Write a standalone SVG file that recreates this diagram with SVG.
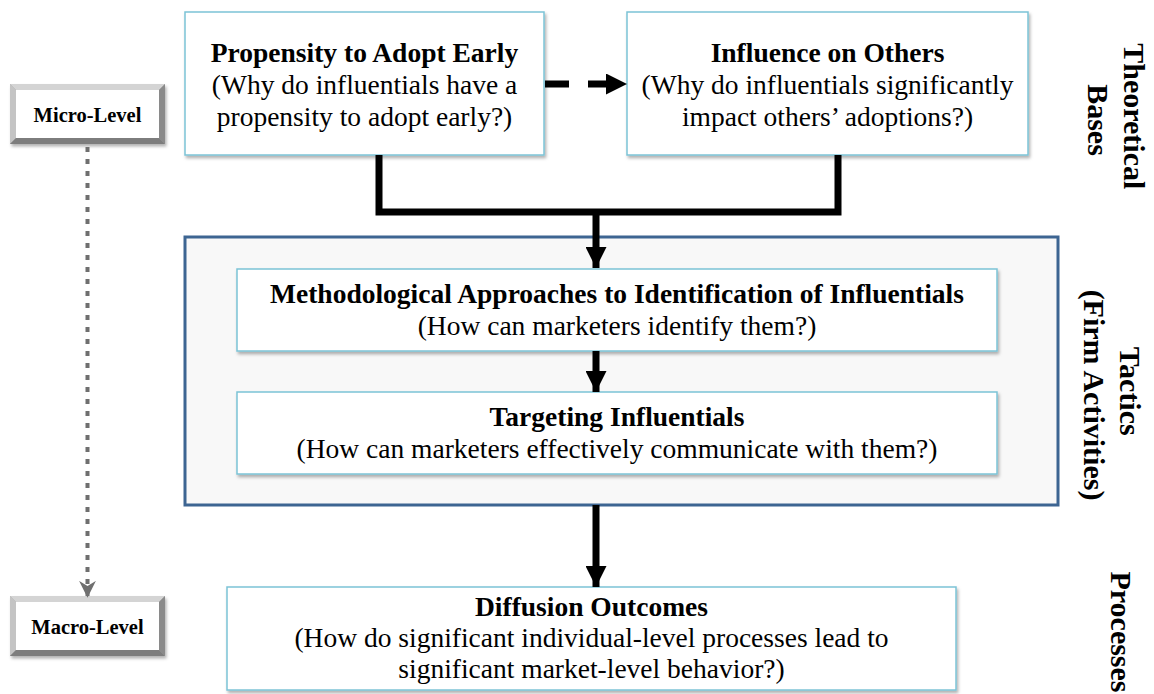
<svg xmlns="http://www.w3.org/2000/svg" width="1154" height="694" viewBox="0 0 1154 694">
  <defs>
    <filter id="shadow" x="-5%" y="-5%" width="110%" height="120%">
      <feDropShadow dx="1.5" dy="2.5" stdDeviation="1.5" flood-color="#000" flood-opacity="0.3"/>
    </filter>
    <marker id="arrowBlack" viewBox="0 0 10 10" refX="10" refY="5" markerWidth="3" markerHeight="3" orient="auto" markerUnits="strokeWidth">
      <path d="M0,0 L10,5 L0,10 Z" fill="#000"/>
    </marker>
    <marker id="arrowGray" viewBox="0 0 10 10" refX="9" refY="5" markerWidth="4.2" markerHeight="4.2" orient="auto" markerUnits="strokeWidth">
      <path d="M0,0 L10,5 L0,10 L3,5 Z" fill="#6f6f6f"/>
    </marker>
  </defs>
  <style>
    .box { fill: #ffffff; stroke: #7cc3d6; stroke-width: 1.5; }
    .frame { fill: #f8f8f8; stroke: #3d6592; stroke-width: 3; }
    .title { font-family: "Liberation Serif", "Times New Roman", serif; font-weight: bold; font-size: 27.5px; fill: #000; text-anchor: middle; }
    .body { font-family: "Liberation Serif", "Times New Roman", serif; font-size: 27.5px; fill: #000; text-anchor: middle; }
    .side { font-family: "Liberation Serif", "Times New Roman", serif; font-weight: bold; font-size: 30px; fill: #000; text-anchor: middle; }
    .level { font-family: "Liberation Serif", "Times New Roman", serif; font-weight: bold; font-size: 20.5px; fill: #000; text-anchor: middle; }
    .conn { fill: none; stroke: #000; stroke-width: 7; }
  </style>

  <!-- outer tactics frame -->
  <g id="tactics-frame">
    <rect class="frame" x="185" y="237" width="873" height="268"/>
  </g>

  <!-- level indicators -->
  <g id="micro-level">
    <rect x="10" y="84" width="155" height="60" fill="#a9a9a9" filter="url(#shadow)"/>
    <polygon points="10,84 165,84 159,90 16,90" fill="#d4d4d4"/>
    <polygon points="10,84 16,90 16,138 10,144" fill="#c4c4c4"/>
    <polygon points="165,84 165,144 159,138 159,90" fill="#8a8a8a"/>
    <polygon points="10,144 165,144 159,138 16,138" fill="#7d7d7d"/>
    <rect x="16" y="90" width="143" height="48" fill="#ffffff"/>
    <text class="level" x="87.5" y="122">Micro-Level</text>
  </g>
  <g id="macro-level">
    <rect x="10" y="596" width="155" height="60" fill="#a9a9a9" filter="url(#shadow)"/>
    <polygon points="10,596 165,596 159,602 16,602" fill="#d4d4d4"/>
    <polygon points="10,596 16,602 16,650 10,656" fill="#c4c4c4"/>
    <polygon points="165,596 165,656 159,650 159,602" fill="#8a8a8a"/>
    <polygon points="10,656 165,656 159,650 16,650" fill="#7d7d7d"/>
    <rect x="16" y="602" width="143" height="48" fill="#ffffff"/>
    <text class="level" x="87.5" y="634">Macro-Level</text>
  </g>

  <!-- theory boxes -->
  <g id="propensity">
    <rect class="box" x="185" y="12" width="359" height="143" filter="url(#shadow)"/>
    <text class="title" x="364.5" y="62">Propensity to Adopt Early</text>
    <text class="body" x="364.5" y="94">(Why do influentials have a</text>
    <text class="body" x="364.5" y="126">propensity to adopt early?)</text>
  </g>
  <g id="influence">
    <rect class="box" x="627" y="12" width="401" height="143" filter="url(#shadow)"/>
    <text class="title" x="827.5" y="62">Influence on Others</text>
    <text class="body" x="827.5" y="94">(Why do influentials significantly</text>
    <text class="body" x="827.5" y="126">impact others’ adoptions?)</text>
  </g>

  <!-- tactics boxes -->
  <g id="identification">
    <rect class="box" x="237" y="269" width="760" height="82" filter="url(#shadow)"/>
    <text class="title" x="617" y="303">Methodological Approaches to Identification of Influentials</text>
    <text class="body" x="617" y="335">(How can marketers identify them?)</text>
  </g>
  <g id="targeting">
    <rect class="box" x="237" y="392" width="760" height="82" filter="url(#shadow)"/>
    <text class="title" x="617" y="426">Targeting Influentials</text>
    <text class="body" x="617" y="458">(How can marketers effectively communicate with them?)</text>
  </g>

  <!-- outcome box -->
  <g id="diffusion">
    <rect class="box" x="227" y="587" width="729" height="103" filter="url(#shadow)"/>
    <text class="title" x="591.5" y="616">Diffusion Outcomes</text>
    <text class="body" x="591.5" y="647">(How do significant individual-level processes lead to</text>
    <text class="body" x="591.5" y="678">significant market-level behavior?)</text>
  </g>

  <!-- side labels -->
  <g id="label-theoretical">
    <text class="side" transform="translate(1124,120) rotate(90)">
      <tspan x="0" y="0">Theoretical</tspan>
      <tspan x="0" y="36">Bases</tspan>
    </text>
  </g>
  <g id="label-tactics">
    <text class="side" transform="translate(1120,395) rotate(90)">
      <tspan x="0" y="0">Tactics</tspan>
      <tspan x="0" y="36">(Firm Activities)</tspan>
    </text>
  </g>
  <g id="label-processes">
    <text class="side" transform="translate(1111,632) rotate(90)">Processes</text>
  </g>

  <!-- connectors -->
  <g id="connectors">
    <path class="conn" d="M379,155 V212 H838 V155"/>
    <line class="conn" x1="596" y1="212" x2="596" y2="268" marker-end="url(#arrowBlack)"/>
    <line class="conn" x1="596" y1="351" x2="596" y2="392" marker-end="url(#arrowBlack)"/>
    <line class="conn" x1="596" y1="505" x2="596" y2="587" marker-end="url(#arrowBlack)"/>
    <line class="conn" x1="545" y1="84" x2="627" y2="84" stroke-width="6" stroke-dasharray="24 19" marker-end="url(#arrowBlack)"/>
    <line x1="87.5" y1="147" x2="87.5" y2="596" stroke="#6f6f6f" stroke-width="4" stroke-dasharray="5 7" marker-end="url(#arrowGray)"/>
  </g>
</svg>
